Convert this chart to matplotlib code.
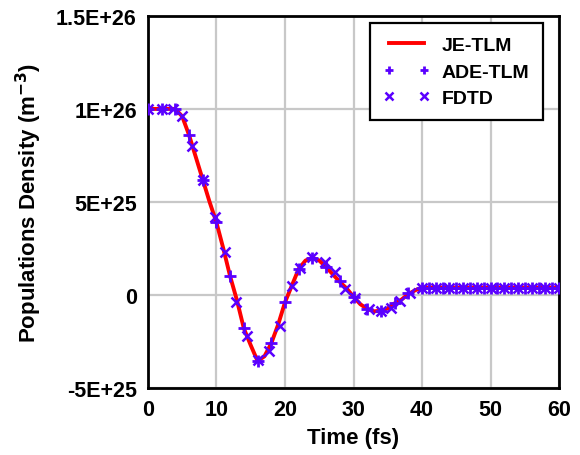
import numpy as np
import matplotlib.pyplot as plt

plt.rcParams['font.family'] = ['Liberation Sans', 'DejaVu Sans']
plt.rcParams['font.weight'] = 'bold'

# Values in units of 1E+25 m^-3
je_t = [0, 1, 2, 3, 4, 5, 6, 7, 8, 9, 10, 11, 12, 13, 14, 15, 16, 17, 18, 19, 20,
        21, 22, 23, 24, 25, 26, 27, 28, 29, 30, 31, 32, 33, 34, 35, 36, 37, 38, 39, 40, 60]
je_n = [10, 10, 10, 10, 10, 9.6, 8.6, 7.4, 6.2, 5.0, 3.9, 2.5, 1.0, -0.3, -1.8, -2.7, -3.55, -3.3,
        -2.6, -1.6, -0.4, 0.5, 1.4, 1.85, 2.0, 1.85, 1.5, 1.1, 0.7, 0.35, -0.1, -0.5, -0.75,
        -0.88, -0.85, -0.72, -0.45, -0.25, 0.05, 0.25, 0.4, 0.4]

ade_t = [0, 2, 4, 6, 8, 10, 12, 14, 16, 18, 20, 22, 24, 26, 28, 30, 32, 34, 36, 38,
         40, 41, 42, 43, 44, 45, 46, 47, 48, 49, 50, 51, 52, 53, 54, 55, 56, 57, 58, 59, 60]
ade_n = [10, 10, 10, 8.6, 6.2, 3.9, 1.0, -1.8, -3.55, -2.6, -0.4, 1.4, 2.0, 1.5, 0.75,
         -0.1, -0.75, -0.86, -0.45, 0.08,
         0.4, 0.4, 0.4, 0.4, 0.4, 0.4, 0.4, 0.4, 0.4, 0.4, 0.4, 0.4, 0.4, 0.4, 0.4, 0.4,
         0.4, 0.4, 0.4, 0.4, 0.4]

fdtd_t = [0, 2, 3.7, 5, 6.5, 8, 9.8, 11.3, 12.9, 14.4, 16, 17.7, 19.3, 21, 22.2, 24,
          25.9, 27.3, 28.8, 30.2, 32.2, 34, 35.4, 36.8, 38.2,
          40, 42, 44, 46, 48, 50, 52, 54, 56, 58, 60]
fdtd_n = [10, 10, 10, 9.6, 8.0, 6.2, 4.2, 2.3, -0.4, -2.2, -3.5, -3.0, -1.65, 0.5, 1.45, 2.04,
          1.77, 1.24, 0.32, -0.16, -0.75, -0.86, -0.7, -0.3, 0.1,
          0.4, 0.4, 0.4, 0.4, 0.4, 0.4, 0.4, 0.4, 0.4, 0.4, 0.4]

scale = 1e25
mark_color = '#5a00ff'

fig = plt.figure(figsize=(5.8, 4.56), dpi=100)
ax = fig.add_axes([0.255, 0.147, 0.709, 0.816])

ax.plot(je_t, np.array(je_n) * scale, color='red', lw=2.8, label='JE-TLM', zorder=3)
ax.plot(ade_t, np.array(ade_n) * scale, ls='none', marker='+', ms=8, mew=2,
        color=mark_color, label='ADE-TLM', zorder=4)
ax.plot(fdtd_t, np.array(fdtd_n) * scale, ls='none', marker='x', ms=7.5, mew=1.8,
        color=mark_color, label='FDTD', zorder=4)

ax.set_xlim(0, 60)
ax.set_ylim(-5e25, 1.5e26)
ax.set_xticks([0, 10, 20, 30, 40, 50, 60])
yt = [-5e25, 0, 5e25, 1e26, 1.5e26]
ax.set_yticks(yt)
ax.set_yticklabels(['-5E+25', '0', '5E+25', '1E+26', '1.5E+26'])
ax.tick_params(length=0, labelsize=15.5)
ax.tick_params(axis='y', pad=8)
ax.tick_params(axis='x', pad=8)
for lab in ax.get_xticklabels() + ax.get_yticklabels():
    lab.set_fontweight('bold')

ax.grid(True, color='#c8c8c8', lw=1.6)
ax.set_axisbelow(True)
for s in ax.spines.values():
    s.set_linewidth(2)

ax.set_xlabel('Time (fs)', fontsize=16, fontweight='bold', labelpad=5)
ax.set_ylabel('Populations Density (m$^{\\mathbf{-3}}$)', fontsize=16, fontweight='bold', labelpad=9)

leg = ax.legend(loc='upper right', bbox_to_anchor=(0.961, 0.981), borderaxespad=0,
                numpoints=2, markerscale=0.8,
                fancybox=False, framealpha=1, edgecolor='black', fontsize=14,
                handlelength=2.4, borderpad=0.7, labelspacing=0.45, handletextpad=0.6)
leg.get_frame().set_linewidth(1.6)
for t in leg.get_texts():
    t.set_fontweight('bold')

fig.savefig('out.png', dpi=100)
